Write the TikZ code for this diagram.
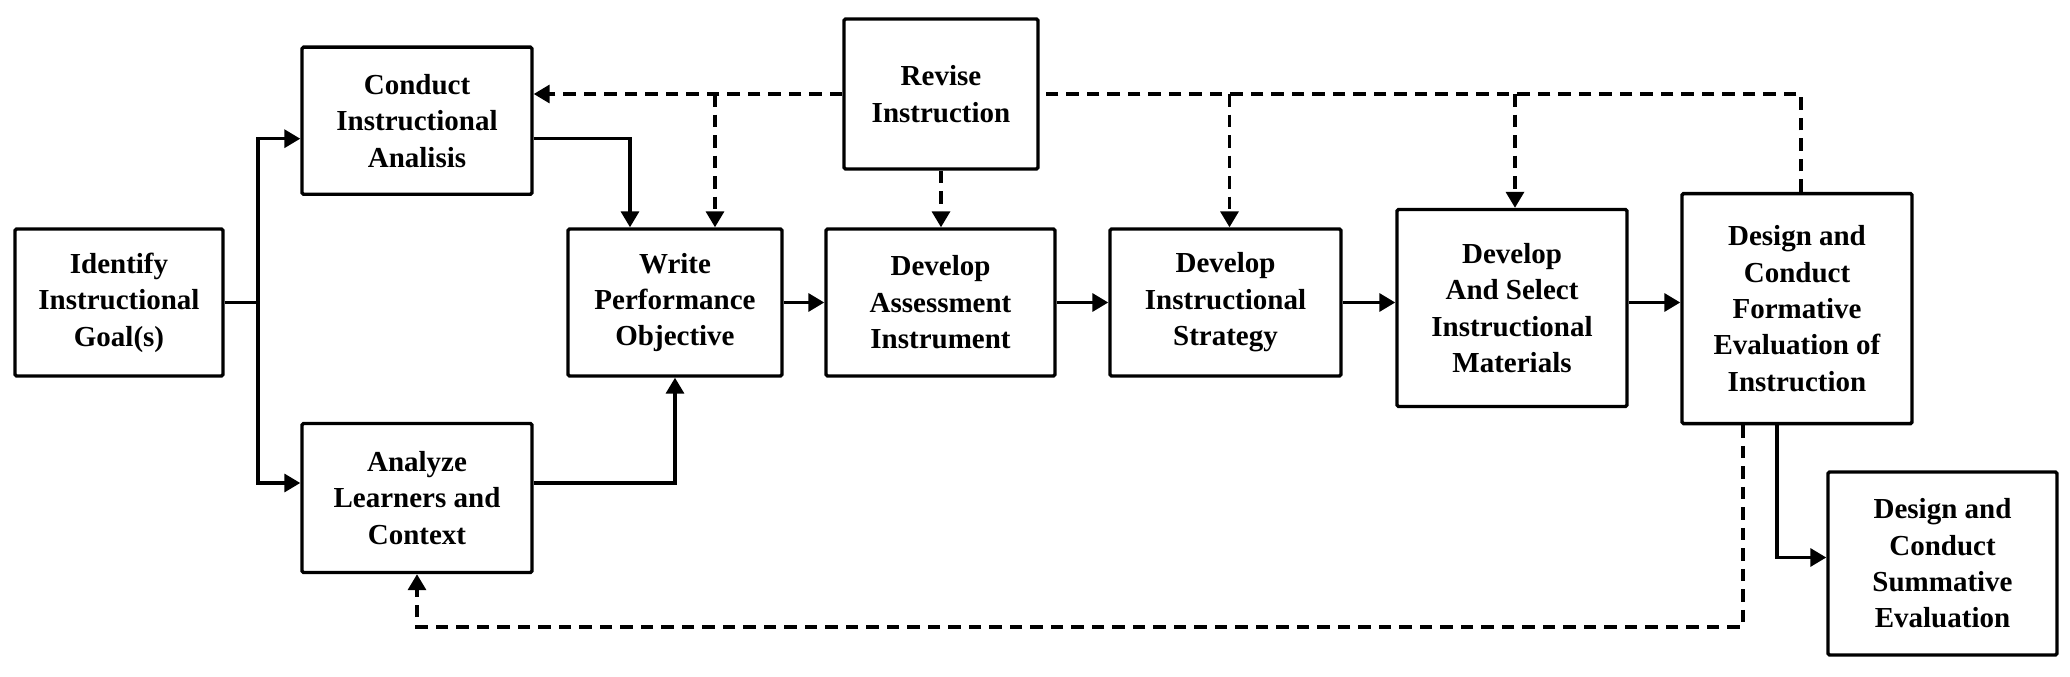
\documentclass[tikz,border=0pt]{standalone}
\usepackage{fontspec}
\setmainfont{Liberation Serif}
\usetikzlibrary{arrows.meta}
\begin{document}
\begin{tikzpicture}[x=1pt,y=1pt,
  box/.style={draw, line width=3.4pt, rounded corners=1.5pt, inner sep=0pt, align=center,
    font=\fontsize{29}{36.4}\selectfont\bfseries},
  conn/.style={line width=3.4pt, -{Triangle[length=16pt,width=18pt]}},
  plain/.style={line width=3.4pt},
  dashline/.style={line width=3.4pt, dash pattern=on 12.5pt off 8pt}]
\useasboundingbox (0,0) rectangle (2070,-677);
\node[box, minimum width=208, minimum height=147] (goal) at (119,-302.5) {Identify\\Instructional\\Goal(s)};
\node[box, minimum width=230, minimum height=147] (cia) at (417,-120.7) {Conduct\\Instructional\\Analisis};
\node[box, minimum width=230, minimum height=149] (alc) at (417,-498) {Analyze\\Learners and\\Context};
\node[box, minimum width=214, minimum height=147] (wpo) at (675,-302.5) {Write\\Performance\\Objective};
\node[box, minimum width=194, minimum height=150] (rev) at (941,-94) {Revise\\Instruction};
\node[box, minimum width=229, minimum height=147] (dai) at (940.5,-302.5) {Develop\\Assessment\\Instrument};
\node[box, minimum width=231, minimum height=147] (dis) at (1225.5,-302.5) {Develop\\Instructional\\Strategy};
\node[box, minimum width=230, minimum height=197] (dsm) at (1512,-308) {Develop\\And Select\\Instructional\\Materials};
\node[box, minimum width=230, minimum height=230] (dcf) at (1797,-308.6) {Design and\\Conduct\\Formative\\Evaluation of\\Instruction};
\node[box, minimum width=229, minimum height=183] (dcs) at (1942.5,-563.5) {Design and\\Conduct\\Summative\\Evaluation};
\coordinate (j) at (258,-302.5);
\coordinate (bot) at (0,-627);
% solid connectors
\draw[plain] (goal.east) -- (j);
\draw[conn] (j) |- ([yshift=-18pt]cia.west);
\draw[conn] (j) |- ([yshift=15pt]alc.west);
\draw[conn] ([yshift=-18pt]cia.east) -| ([xshift=-45pt]wpo.north);
\draw[conn] ([yshift=15pt]alc.east) -| (wpo.south);
\draw[conn] (wpo.east) -- (dai.west);
\draw[conn] (dai.east) -- (dis.west);
\draw[conn] (dis.east) -- (dsm.west |- dis.east);
\draw[conn] (dsm.east |- dis.east) -- (dcf.west |- dis.east);
\draw[conn] ([xshift=-20pt]dcf.south) |- ([yshift=6pt]dcs.west);
% dashed feedback
\draw[dashline] ([xshift=4pt]dcf.north) |- (rev.east);
\draw[dashline, conn] (rev.west) -- (rev.west -| cia.east);
\draw[dashline, conn] ([xshift=40pt]wpo.north |- rev.west) -- ([xshift=40pt]wpo.north);
\draw[dashline, conn] (rev.south) -- (rev.south |- dai.north);
\draw[dashline, conn] ([xshift=4pt]dis.north |- rev.east) -- ([xshift=4pt]dis.north);
\draw[dashline, conn] ([xshift=3pt]dsm.north |- rev.east) -- ([xshift=3pt]dsm.north);
\draw[dashline, conn] ([xshift=-54pt]dcf.south) |- (alc.south |- bot) -- (alc.south);
\end{tikzpicture}
\end{document}
